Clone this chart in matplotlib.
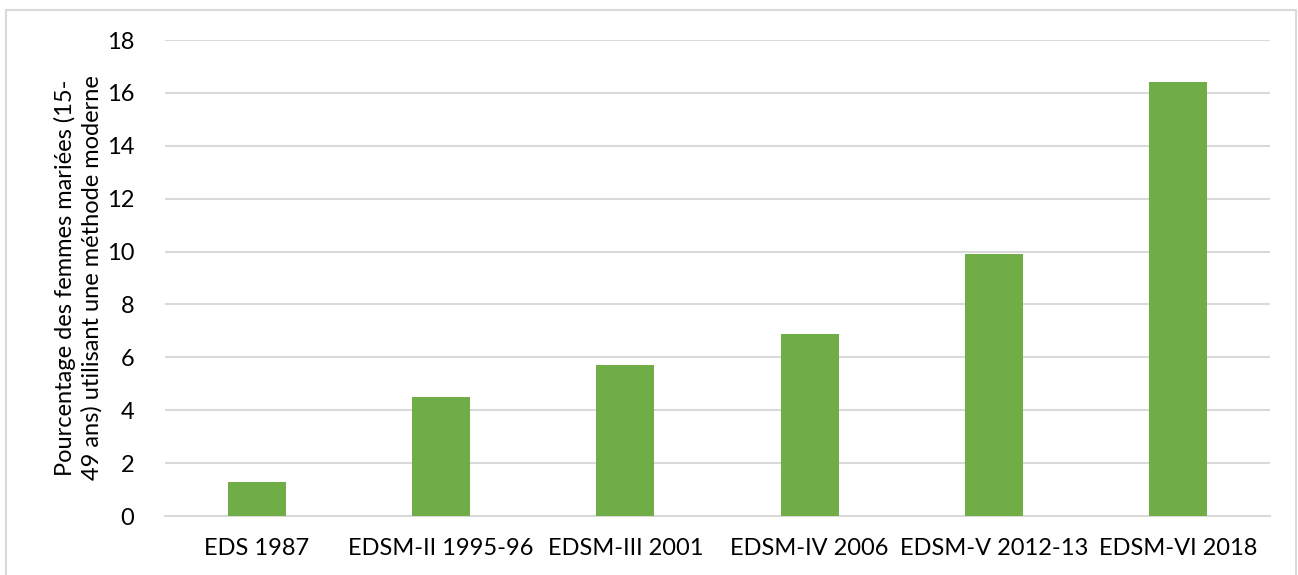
import matplotlib
matplotlib.use("Agg")
import matplotlib.pyplot as plt
from matplotlib.patches import Rectangle

categories = ["EDS 1987", "EDSM-II 1995-96", "EDSM-III 2001", "EDSM-IV 2006", "EDSM-V 2012-13", "EDSM-VI 2018"]
values = [1.3, 4.5, 5.7, 6.9, 9.9, 16.4]
yticks = [0, 2, 4, 6, 8, 10, 12, 14, 16, 18]
ylabel = "Pourcentage des femmes mariées (15-\n49 ans) utilisant une méthode moderne"

plt.rcParams['font.family'] = ['Lato', 'DejaVu Sans']
fig = plt.figure(figsize=(12.98, 5.75), dpi=100)
ax = fig.add_axes([0.1271, 0.1026, 0.8513, 0.8278])

x = list(range(len(categories)))
ax.bar(x, values, width=0.315, color="#70AD47", zorder=3)
ax.set_xlim(-0.5, len(categories) - 0.5)
ax.set_ylim(0, 18)
ax.set_yticks(yticks)
ax.set_yticklabels([str(t) for t in yticks], fontsize=17)
ax.set_xticks(x)
ax.set_xticklabels(categories, fontsize=17)
ax.tick_params(axis='both', length=0, colors="#000000")
ax.tick_params(axis='y', pad=22)
ax.tick_params(axis='x', pad=16)
ax.grid(axis='y', color="#D9D9D9", linewidth=1.5, zorder=0)
for s in ['top', 'right', 'left']:
    ax.spines[s].set_visible(False)
ax.spines['bottom'].set_color("#D9D9D9")
ax.spines['bottom'].set_linewidth(1.5)
ax.set_ylabel(ylabel, fontsize=17, linespacing=1.3, labelpad=3)

fig.patches.append(Rectangle((6/1298, -0.01), 1 - 8/1298, 1 - 10/575 + 0.01,
                             transform=fig.transFigure, fill=False,
                             edgecolor="#D9D9D9", linewidth=1.5))
fig.savefig("out.png", dpi=100)
